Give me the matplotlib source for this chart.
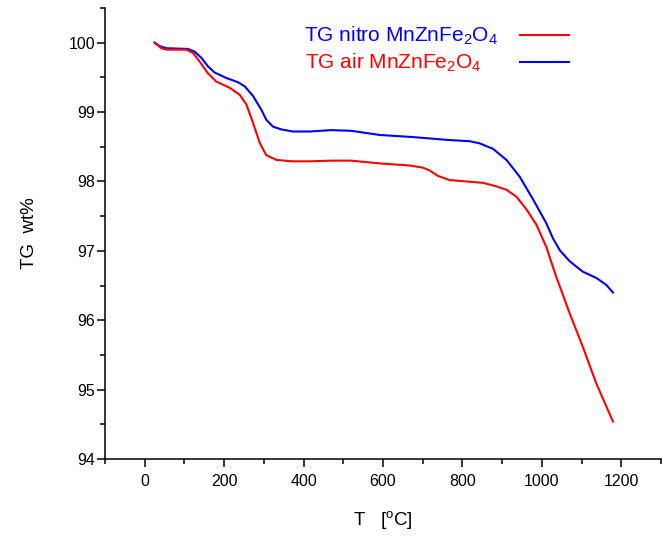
import matplotlib
matplotlib.use("Agg")
import matplotlib.pyplot as plt
from matplotlib.lines import Line2D
from matplotlib.ticker import MultipleLocator

plt.rcParams['font.family'] = ['Liberation Sans', 'DejaVu Sans']
plt.rcParams['mathtext.fontset'] = 'custom'
plt.rcParams['mathtext.rm'] = 'Liberation Sans'
plt.rcParams['mathtext.it'] = 'Liberation Sans:italic'
plt.rcParams['mathtext.bf'] = 'Liberation Sans:bold'

# ---- data ----
T_blue = [25, 38, 55, 109, 126, 143, 159, 176, 206, 235, 252, 273, 294, 306, 323, 344,
          373, 415, 470, 520, 592, 675, 760, 818, 843, 877, 911, 944, 978, 1011, 1028,
          1045, 1070, 1103, 1137, 1162, 1179]
v_blue = [100.0, 99.95, 99.92, 99.91, 99.87, 99.78, 99.66, 99.57, 99.49, 99.43, 99.37,
          99.23, 99.03, 98.89, 98.79, 98.75, 98.72, 98.72, 98.74, 98.73, 98.67, 98.64,
          98.60, 98.58, 98.55, 98.47, 98.31, 98.07, 97.74, 97.40, 97.18, 97.01, 96.85,
          96.70, 96.61, 96.51, 96.40]

T_red = [25, 42, 55, 105, 122, 138, 159, 180, 214, 239, 256, 273, 290, 306, 332, 373,
         415, 470, 520, 592, 667, 700, 717, 738, 768, 810, 852, 885, 911, 936, 961, 986,
         1011, 1036, 1070, 1103, 1137, 1179]
v_red = [100.0, 99.92, 99.90, 99.90, 99.85, 99.73, 99.56, 99.44, 99.35, 99.25, 99.11,
         98.84, 98.55, 98.38, 98.31, 98.29, 98.29, 98.30, 98.30, 98.26, 98.23, 98.20,
         98.16, 98.08, 98.02, 98.00, 97.98, 97.93, 97.88, 97.78, 97.60, 97.38, 97.06,
         96.63, 96.10, 95.62, 95.09, 94.54]

label_nitro = "TG nitro MnZnFe$_2$O$_4$"
label_air = "TG air MnZnFe$_2$O$_4$"
x_ticks = [0, 200, 400, 600, 800, 1000, 1200]
y_ticks = [94, 95, 96, 97, 98, 99, 100]

W, H = 662, 536
fig = plt.figure(figsize=(W / 100, H / 100), dpi=100)
ax = fig.add_axes([105 / W, 77 / H, 556 / W, 451 / H])

blue = '#0000ff'
red = '#ff0000'
ax.plot(T_blue, v_blue, color=blue, lw=1.5)
ax.plot(T_red, v_red, color=red, lw=1.5)

ax.set_xlim(-100, 1300)
ax.set_ylim(94, 100.5)
ax.spines['top'].set_visible(False)
ax.spines['right'].set_visible(False)
for s in ('left', 'bottom'):
    ax.spines[s].set_linewidth(1.1)

ax.set_xticks(x_ticks)
ax.set_yticks(y_ticks)
ax.xaxis.set_minor_locator(MultipleLocator(100))
ax.yaxis.set_minor_locator(MultipleLocator(0.5))
ax.tick_params(which='major', direction='out', length=6, width=1.1, labelsize=11.5)
ax.tick_params(which='minor', direction='out', length=3.6, width=1.1)
ax.tick_params(axis='y', which='major', pad=1.0)
ax.tick_params(axis='x', which='major', pad=5)

ax.set_xlabel("T   [$^{\\mathrm{o}}$C]", fontsize=13.5, labelpad=14)
ax.set_ylabel("TG  wt%", fontsize=13.5, labelpad=22)

# legend (text colours / line colours as in the reference)
fs = 15
em = fs * 100 / 72
h1 = Line2D([], [], color=red, lw=1.5)
h2 = Line2D([], [], color=blue, lw=1.5)
leg1 = ax.legend([h1], [label_nitro], loc='center right', frameon=False,
                 bbox_to_anchor=(569 / W, 1 - 36 / H), bbox_transform=fig.transFigure,
                 markerfirst=False, fontsize=fs, handlelength=49 / em,
                 handletextpad=22 / em, borderpad=0, borderaxespad=0)
leg1.get_texts()[0].set_color(blue)
ax.add_artist(leg1)
leg2 = ax.legend([h2], [label_air], loc='center right', frameon=False,
                 bbox_to_anchor=(569 / W, 1 - 63 / H), bbox_transform=fig.transFigure,
                 markerfirst=False, fontsize=fs, handlelength=49 / em,
                 handletextpad=38 / em, borderpad=0, borderaxespad=0)
leg2.get_texts()[0].set_color(red)

fig.savefig("out.png", dpi=100)
